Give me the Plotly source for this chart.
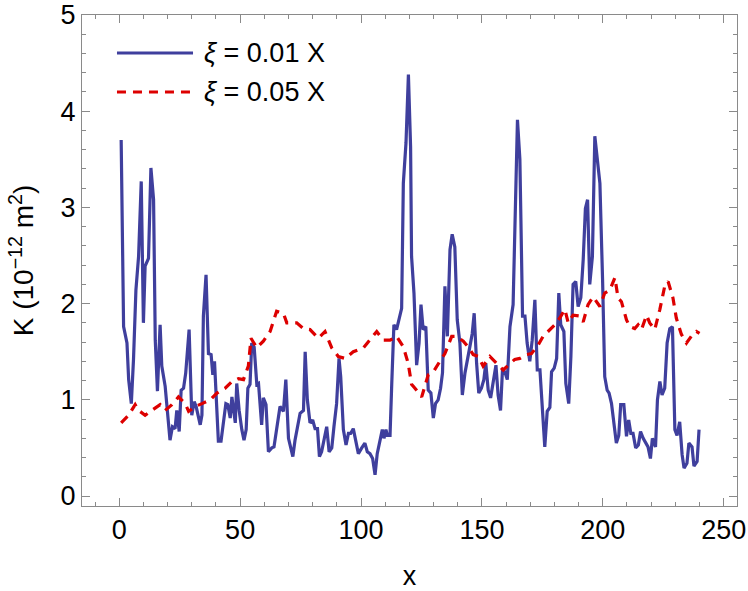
import plotly.graph_objects as go

# Series
blue_x = [0.8, 1.8, 3.2, 3.9, 5, 5.9, 6.9, 8, 9.1, 10, 10.7, 12.1, 13.1, 14.2, 14.9, 15.8, 16.9, 17.6, 19, 20.1,
          21, 22, 23.1, 23.8, 24.8, 25.6, 26.6, 27.5, 28.9, 30, 31, 31.8, 32.8, 33.5, 34.2, 34.8, 35.9, 36.9, 38, 38.7,
          39.4, 40.4, 41, 42.1, 43.1, 44.1, 44.9, 45.9, 46.6, 47.2, 48, 48.6, 49.6, 50.7, 51.6, 52.5, 53.2, 54.1, 54.8, 55.8,
          56.9, 57.6, 58.9, 59.6, 60.7, 61.7, 63.1, 64, 65.1, 66.5, 67.9, 68.9, 70, 71, 71.8, 72.7, 73.8, 74.8, 76.2, 76.9,
          77.8, 78.9, 80, 81, 82, 82.8, 83.7, 84.7, 85.8, 86.8, 87.9, 88.8, 89.9, 90.9, 91.6, 92.7, 93.8, 94.8, 95.7, 96.8,
          97.9, 98.9, 100.3, 101.6, 102.6, 103.7, 104.8, 105.8, 106.7, 107.9, 108.8, 109.5, 110.3, 110.9, 112, 112.7, 113.6, 114.7, 115.7, 116.8,
          117.5, 118.6, 119.6, 120.5, 120.9, 121.9, 123, 124, 124.8, 125.7, 126.8, 127.8, 128.9, 129.9, 130.8, 131.9, 132.9, 133.7, 134.7, 135.7,
          136.8, 137.7, 138.8, 139.8, 140.9, 141.9, 143, 143.9, 145, 146, 146.8, 147.8, 148.7, 149.8, 150.8, 151.6, 152.6, 153.6, 154.7, 155.8,
          156.7, 157.7, 158.5, 159.5, 160.5, 161.6, 162.9, 163.9, 164.7, 165.7, 166.8, 167.8, 168.7, 169.8, 170.8, 171.9, 172.9, 174, 174.9, 176,
          177, 178.1, 178.8, 179.9, 180.9, 181.8, 182.6, 183.9, 184.7, 185.9, 186.8, 187.7, 188.8, 189.8, 190.9, 191.9, 192.8, 193.7, 194.6, 195.7,
          196.7, 197.8, 198.8, 199.9, 200.8, 201.8, 202.6, 203.6, 204.5, 205.6, 206.6, 207.4, 208.7, 209.8, 210.7, 211.6, 212.5, 213.6, 214.7, 215.6,
          216.7, 217.8, 218.7, 219.7, 220.5, 221.8, 222.6, 223.6, 224.5, 225.6, 226.6, 227.7, 228.8, 229.8, 230.7, 231.8, 232.8, 233.6, 234.8, 235.6,
          236.9, 237.7, 239, 239.8]
blue_y = [3.70, 1.76, 1.59, 1.21, 0.96, 1.42, 2.14, 2.49, 3.27, 1.80, 2.39, 2.47, 3.41, 3.08, 1.62, 1.09, 1.78, 1.35, 1.14, 0.86,
          0.58, 0.72, 0.70, 0.89, 0.67, 1.10, 1.12, 1.28, 1.73, 0.84, 0.98, 0.93, 0.81, 0.74, 0.84, 1.87, 2.30, 1.48, 1.47, 1.26,
          1.40, 0.93, 0.57, 0.57, 0.79, 0.96, 0.95, 0.81, 1.03, 0.91, 0.76, 1.17, 0.89, 0.69, 0.58, 0.69, 1.12, 1.16, 1.59, 1.55,
          1.16, 1.17, 0.74, 1.02, 0.95, 0.46, 0.50, 0.51, 0.72, 0.93, 0.88, 1.21, 0.60, 0.50, 0.41, 0.58, 0.72, 0.86, 0.89, 1.50,
          1.00, 0.76, 0.79, 0.70, 0.70, 0.41, 0.46, 0.60, 0.72, 0.46, 0.50, 0.72, 0.96, 1.43, 1.24, 0.69, 0.53, 0.65, 0.65, 0.70,
          0.57, 0.44, 0.50, 0.55, 0.46, 0.44, 0.39, 0.22, 0.44, 0.58, 0.69, 0.60, 0.69, 0.63, 0.63, 1.16, 1.78, 1.73, 1.85, 1.95,
          3.25, 3.67, 4.38, 3.63, 2.49, 2.11, 1.36, 1.59, 1.99, 1.73, 1.76, 1.10, 1.07, 0.81, 0.96, 1.00, 1.12, 1.28, 2.18, 1.66,
          2.56, 2.72, 2.59, 1.83, 1.59, 1.05, 1.28, 1.42, 1.55, 1.69, 1.90, 1.38, 1.07, 1.12, 1.21, 1.38, 1.10, 1.02, 1.21, 1.36,
          1.05, 0.89, 1.31, 1.29, 1.21, 1.76, 1.99, 2.98, 3.91, 3.50, 1.87, 1.87, 1.59, 1.40, 1.62, 2.04, 1.31, 1.31, 0.96, 0.51,
          0.88, 0.92, 1.29, 1.33, 1.43, 2.11, 1.78, 1.71, 1.17, 0.96, 1.45, 2.20, 2.23, 1.97, 2.06, 2.46, 2.99, 3.08, 2.20, 2.49,
          3.74, 3.50, 3.25, 2.25, 1.24, 1.10, 1.07, 0.96, 0.76, 0.55, 0.63, 0.95, 0.95, 0.62, 0.79, 0.65, 0.65, 0.50, 0.53, 0.67,
          0.60, 0.55, 0.51, 0.39, 0.60, 0.51, 1.00, 1.19, 1.05, 1.12, 1.59, 1.74, 1.76, 0.69, 0.63, 0.77, 0.43, 0.29, 0.34, 0.55,
          0.51, 0.31, 0.36, 0.69]

red_x = [0.8, 3.9, 6.6, 8, 10.7, 13.5, 16.9, 19, 21.8, 24.5, 27.3, 28.7, 31.4, 34.2, 37.6, 40.4, 43.8, 46.6, 49.3, 51.4,
         53.4, 54.5, 56.9, 59.6, 62.4, 65.1, 67.9, 69.3, 73.4, 76.2, 78.9, 82.4, 85.1, 87.9, 90.6, 93.4, 96.8, 101, 103.7, 106.5,
         109.2, 112, 114.7, 116.8, 117.5, 119.5, 120.9, 122.3, 125.1, 127.8, 129.9, 132.6, 134.7, 137.5, 139.5, 142.3, 144.3, 146.4, 148.5, 150.5,
         153.3, 156, 158.8, 160.9, 163.6, 165.7, 168.4, 170.5, 173.3, 175.3, 178.1, 180.2, 182.2, 184.3, 185.7, 187.7, 190.5, 191.9, 193.9, 196,
         198.8, 200.8, 202.9, 205, 206.3, 207.7, 209.8, 211.2, 213.2, 214.6, 216, 218.1, 219.4, 221.5, 223.6, 225.6, 227, 229, 230.4, 232.5,
         234.6, 236.6, 238.7, 240]
red_y = [0.76, 0.84, 0.95, 0.89, 0.84, 0.89, 0.95, 0.89, 0.95, 1.03, 0.96, 0.88, 0.93, 0.96, 1.00, 1.07, 1.12, 1.19, 1.22, 1.21,
         1.35, 1.64, 1.54, 1.61, 1.71, 1.92, 1.90, 1.80, 1.80, 1.74, 1.73, 1.64, 1.71, 1.54, 1.45, 1.43, 1.50, 1.54, 1.62, 1.71,
         1.62, 1.62, 1.66, 1.57, 1.55, 1.38, 1.16, 1.12, 1.03, 1.26, 1.29, 1.40, 1.48, 1.66, 1.66, 1.61, 1.55, 1.47, 1.45, 1.35,
         1.45, 1.38, 1.31, 1.36, 1.42, 1.43, 1.47, 1.48, 1.57, 1.66, 1.73, 1.78, 1.85, 1.94, 1.80, 1.88, 1.87, 1.81, 1.99, 2.07,
         1.97, 2.11, 2.14, 2.27, 2.06, 2.02, 1.83, 1.76, 1.74, 1.78, 1.73, 1.88, 1.80, 1.73, 1.94, 2.18, 2.23, 2.06, 1.85, 1.68,
         1.59, 1.66, 1.71, 1.69]

series_names = ["<i>ξ</i> = 0.01 X", "<i>ξ</i> = 0.05 X"]
x_ticks = [0, 50, 100, 150, 200, 250]
y_ticks = [0, 1, 2, 3, 4, 5]

BLUE = "#3f3f9d"
RED = "#dd0000"
FRAME = "#8a8a8a"
FONT = "Liberation Sans, Arial, sans-serif"

fig = go.Figure()
fig.add_trace(go.Scatter(x=blue_x, y=blue_y, mode="lines", name=series_names[0],
                         line=dict(color=BLUE, width=3.2), showlegend=False))
fig.add_trace(go.Scatter(x=red_x, y=red_y, mode="lines", name=series_names[1],
                         line=dict(color=RED, width=3.2, dash="9px,7px"), showlegend=False))

# Legend drawn as line samples + labels (paper coordinates)
leg_rows = [(0.9226, BLUE, "solid"), (0.8432, RED, "9px,7px")]
for (yy, col, dsh), name in zip(leg_rows, series_names):
    fig.add_shape(type="line", xref="paper", yref="paper", x0=0.0534, x1=0.1695, y0=yy, y1=yy,
                  line=dict(color=col, width=3.2, dash=dsh))
    fig.add_annotation(xref="paper", yref="paper", x=0.1832, y=yy, xanchor="left", yanchor="middle",
                       text=name, showarrow=False, font=dict(family=FONT, size=27, color="black"))

axis_common = dict(showline=True, linecolor=FRAME, linewidth=1, mirror="ticks", showgrid=False,
                   zeroline=False, ticks="inside", tickcolor=FRAME, tickwidth=1, ticklen=8,
                   automargin=False, ticklabeloverflow="allow",
                   tickfont=dict(family=FONT, size=27, color="black"))

fig.update_xaxes(range=[-15.4, 255.5], tickvals=x_ticks, ticktext=[str(v) for v in x_ticks],
                 minor=dict(dtick=10, tick0=0, ticks="inside", ticklen=4, tickcolor=FRAME),
                 title=dict(text="x", font=dict(family=FONT, size=27, color="black"), standoff=22),
                 **axis_common)
fig.update_yaxes(range=[-0.104, 5.0], tickvals=y_ticks, ticktext=[str(v) for v in y_ticks],
                 minor=dict(dtick=0.2, tick0=0, ticks="inside", ticklen=4, tickcolor=FRAME),
                 title=dict(text="K (10<sup>\u221212</sup> m<sup>2</sup>)",
                            font=dict(family=FONT, size=28, color="black"), standoff=18),
                 **axis_common)

fig.update_layout(width=748, height=591, margin=dict(l=82, r=11, t=15, b=85),
                  plot_bgcolor="white", paper_bgcolor="white")

fig.write_html("out.html", config={"displayModeBar": False},
               post_script="document.body.style.margin='0';")
